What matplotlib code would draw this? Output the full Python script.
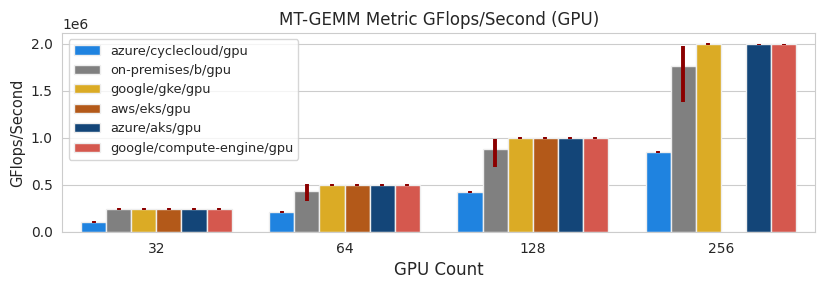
import numpy as np
import matplotlib
matplotlib.use("Agg")
import matplotlib.pyplot as plt
import seaborn as sns

sns.set_style("whitegrid")

# datos
gpu_counts = ["32", "64", "128", "256"]
envs = ["azure/cyclecloud/gpu", "on-premises/b/gpu", "google/gke/gpu",
        "aws/eks/gpu", "azure/aks/gpu", "google/compute-engine/gpu"]
colors = ["#1f83e0", "#808080", "#dbab25", "#b35919", "#134578", "#d5584e"]

cyclecloud = [0.103e6, 0.21e6, 0.425e6, 0.848e6]
onprem = [0.241e6, 0.436e6, 0.88e6, 1.763e6]
gke = [0.245e6, 0.497e6, 0.997e6, 1.997e6]
eks = [0.245e6, 0.497e6, 0.996e6, np.nan]
aks = [0.244e6, 0.496e6, 0.995e6, 1.994e6]
gce = [0.244e6, 0.496e6, 0.995e6, 1.994e6]

# rango de error (min / max)
onprem_lo = [0.236e6, 0.333e6, 0.686e6, 1.38e6]
onprem_hi = [0.250e6, 0.507e6, 0.993e6, 1.976e6]
small_err = 0.01e6

series = [cyclecloud, onprem, gke, eks, aks, gce]

fig, ax = plt.subplots(figsize=(8.3, 2.91), dpi=100)
fig.subplots_adjust(left=0.075, right=0.982, bottom=0.203, top=0.887)

x = np.arange(len(gpu_counts))
n = len(envs)
w = 0.8 / n
for i, (name, vals) in enumerate(zip(envs, series)):
    vals = np.array(vals)
    pos = x - 0.4 + w * (i + 0.5)
    ax.bar(pos, vals, width=w, color=colors[i], edgecolor="#eeeeee",
           linewidth=1, label=name, zorder=2)
    ok = ~np.isnan(vals)
    if name == "on-premises/b/gpu":
        ye = [(vals - np.array(onprem_lo))[ok], (np.array(onprem_hi) - vals)[ok]]
    else:
        ye = np.full(ok.sum(), small_err)
    ax.errorbar(pos[ok], vals[ok], yerr=ye, fmt="none", ecolor="darkred",
                elinewidth=2.8, capsize=0, zorder=3)

ax.set_xticks(x)
ax.set_xticklabels(gpu_counts)
ax.set_xlim(-0.5, 3.5)
ax.set_ylim(0, 2.117e6)
ax.grid(axis="x", visible=False)
ax.set_axisbelow(True)
for s in ax.spines.values():
    s.set_color("#cccccc")
ax.set_title("MT-GEMM Metric GFlops/Second (GPU)", fontsize=12)
ax.set_xlabel("GPU Count", fontsize=12)
ax.set_ylabel("GFlops/Second", fontsize=10.5)
ax.tick_params(labelsize=10)
ax.legend(loc="upper left", fontsize=9.3, labelspacing=0.5)

plt.savefig("out.png")
